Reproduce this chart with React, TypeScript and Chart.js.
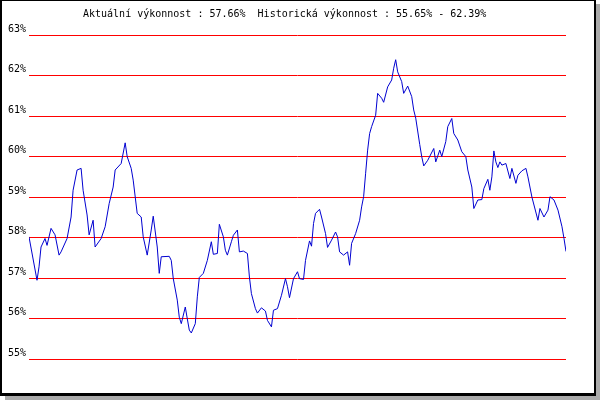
import React, { useEffect, useRef } from "react";
import { Chart, registerables } from "chart.js";

Chart.register(...registerables);

const titleText = "Aktuální výkonnost : 57.66%  Historická výkonnost : 55.65% - 62.39%";

const yTicks = [55, 56, 57, 58, 59, 60, 61, 62, 63];

const days = [
  0, 4, 5, 6, 8, 9, 11, 13, 15, 16, 19, 21, 22, 24, 26, 27, 29, 30, 32, 33,
  36, 38, 40, 42, 43, 46, 48, 49, 51, 52, 54, 56, 57, 59, 61, 62, 64, 65, 66, 70,
  71, 72, 74, 75, 76, 78, 79, 80, 81, 83, 84, 85, 87, 89, 91, 92, 94, 95, 97, 98,
  99, 101, 102, 104, 105, 107, 109, 110, 111, 113, 114, 116, 118, 119, 121, 122, 124, 126, 128, 129,
  130, 132, 134, 135, 137, 138, 140, 141, 142, 143, 145, 146, 148, 149, 151, 153, 154, 155, 157, 159,
  160, 161, 163, 165, 166, 167, 168, 169, 170, 171, 173, 174, 176, 177, 179, 181, 182, 183, 184, 186,
  187, 189, 191, 192, 193, 195, 196, 197, 199, 202, 203, 205, 206, 208, 209, 211, 212, 214, 216, 218,
  219, 221, 222, 224, 226, 227, 229, 230, 231, 232, 233, 234, 235, 236, 238, 240, 241, 243, 244, 246,
  248, 249, 251, 254, 255, 257, 259, 260, 262, 264, 266, 267, 268,
];

const performance = [
  58.02, 56.95, 57.28, 57.77, 57.98, 57.81, 58.23, 58.07, 57.57, 57.65, 57.98, 58.51, 59.17, 59.67, 59.71, 59.17, 58.56, 58.07, 58.43, 57.77,
  57.98, 58.27, 58.84, 59.25, 59.67, 59.83, 60.34, 60.0, 59.71, 59.42, 58.6, 58.51, 58.02, 57.57, 58.19, 58.53, 57.77, 57.12, 57.53, 57.54,
  57.44, 56.99, 56.46, 56.04, 55.88, 56.29, 56.0, 55.72, 55.65, 55.88, 56.54, 57.02, 57.12, 57.44, 57.9, 57.59, 57.61, 58.33, 58.02, 57.69,
  57.57, 57.9, 58.06, 58.19, 57.65, 57.67, 57.61, 57.03, 56.62, 56.25, 56.14, 56.27, 56.19, 55.96, 55.8, 56.21, 56.25, 56.58, 56.99, 56.79,
  56.52, 56.99, 57.16, 56.99, 56.97, 57.44, 57.92, 57.79, 58.35, 58.6, 58.7, 58.51, 58.1, 57.76, 57.94, 58.14, 58.02, 57.65, 57.57, 57.65,
  57.32, 57.86, 58.1, 58.43, 58.76, 59.01, 59.59, 60.16, 60.57, 60.74, 61.02, 61.56, 61.44, 61.34, 61.72, 61.89, 62.18, 62.39, 62.09, 61.85,
  61.56, 61.74, 61.48, 61.15, 60.95, 60.3, 60.0, 59.77, 59.91, 60.2, 59.87, 60.16, 60.0, 60.37, 60.74, 60.94, 60.57, 60.41, 60.12, 60.0,
  59.67, 59.25, 58.72, 58.93, 58.94, 59.21, 59.44, 59.17, 59.5, 60.14, 59.87, 59.73, 59.87, 59.79, 59.83, 59.46, 59.71, 59.34, 59.54, 59.65,
  59.71, 59.5, 59.0, 58.43, 58.72, 58.51, 58.68, 59.01, 58.93, 58.68, 58.27, 57.98, 57.66,
];

const FONT = '"DejaVu Sans Mono", "Liberation Mono", monospace';

const framePlugin = {
  id: "frame",
  beforeDraw(chart: any) {
    const ctx = chart.ctx;
    ctx.save();
    ctx.fillStyle = "#ffffff";
    ctx.fillRect(0, 0, 600, 400);
    ctx.fillStyle = "#aaaaaa";
    ctx.fillRect(596, 4, 4, 396);
    ctx.fillRect(5, 396, 595, 4);
    ctx.fillStyle = "#000000";
    ctx.fillRect(0, 0, 596, 396);
    ctx.fillStyle = "#ffffff";
    ctx.fillRect(2, 1, 592, 392);
    ctx.fillStyle = "#000000";
    ctx.font = "10px " + FONT;
    ctx.textBaseline = "alphabetic";
    ctx.textAlign = "left";
    ctx.fillText(titleText, 83, 17);
    ctx.restore();
  },
};

export default function App() {
  const ref = useRef<HTMLCanvasElement | null>(null);

  useEffect(() => {
    if (!ref.current) return;
    const points = days.map((d, i) => ({ x: d, y: performance[i] }));
    const chart = new Chart(ref.current, {
      type: "line",
      data: {
        datasets: [
          {
            data: points,
            borderColor: "#0000d0",
            borderWidth: 1,
            pointRadius: 0,
            tension: 0,
            fill: false,
          },
        ],
      },
      options: {
        animation: false,
        responsive: false,
        devicePixelRatio: 1,
        layout: { padding: { left: 0, right: 34, top: 35, bottom: 40.7 } },
        plugins: {
          legend: { display: false },
          tooltip: { enabled: false },
          title: { display: false },
        },
        scales: {
          x: {
            type: "linear",
            min: days[0],
            max: days[days.length - 1],
            display: false,
          },
          y: {
            min: yTicks[0],
            max: yTicks[yTicks.length - 1],
            afterBuildTicks: (s: any) => {
              s.ticks = yTicks.map((v) => ({ value: v }));
            },
            afterFit: (s: any) => {
              s.width = 29;
            },
            ticks: {
              callback: (v: any) => v + "%",
              font: { family: FONT, size: 10 },
              color: "#000000",
              padding: 3,
              labelOffset: -6,
            },
            grid: { color: "#ff0000", lineWidth: 1, drawTicks: false },
            border: { display: false },
          },
        },
      },
      plugins: [framePlugin],
    });
    return () => chart.destroy();
  }, []);

  return (
    <div style={{ position: "absolute", left: 0, top: 0, width: 600, height: 400 }}>
      <canvas ref={ref} width={600} height={400} style={{ display: "block" }} />
    </div>
  );
}
